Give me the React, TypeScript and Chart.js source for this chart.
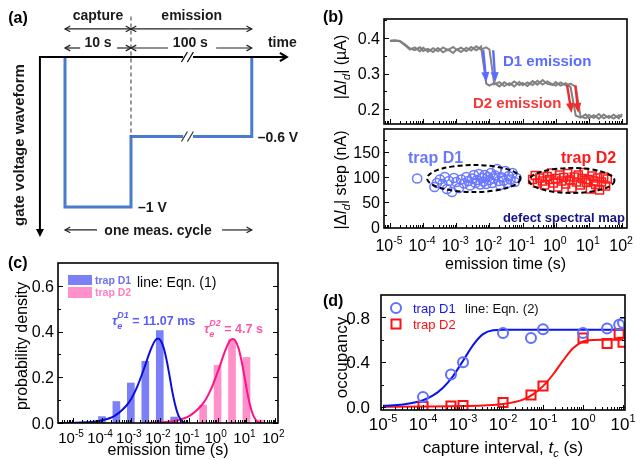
import React, { useEffect, useRef } from "react";
import { Chart, registerables } from "chart.js";
Chart.register(...registerables);

const FONT = '"Liberation Sans", Arial, Helvetica, sans-serif';

// ---------------- (a) gate waveform (schematic units: s, V) ----------------
const waveT = [0, 0, 10, 10, 28.3, 28.3];
const waveV = [0, -1, -1, -0.53, -0.53, 0];

// ---------------- (b) drain current traces ----------------
const traceTimes = [
  1e-5, 1.4e-5, 2e-5, 2.8e-5, 4e-5, 5.6e-5, 8e-5,
  1e-4, 1.4e-4, 2e-4, 2.8e-4, 4e-4, 5.6e-4, 8e-4,
  1e-3, 1.4e-3, 2e-3, 2.8e-3, 4e-3, 5.6e-3, 8e-3,
  1e-2, 1.4e-2, 2e-2, 2.8e-2, 4e-2, 5.6e-2, 8e-2,
  0.1, 0.14, 0.2, 0.28, 0.4, 0.56, 0.8,
  1, 1.4, 2, 2.8, 4, 5.6, 8,
  10, 14, 20, 28, 40, 56, 80,
  100,
];
const trace1 = [
  0.393, 0.394, 0.392, 0.383, 0.371, 0.366, 0.374,
  0.364, 0.37, 0.361, 0.372, 0.36, 0.368, 0.358,
  0.367, 0.373, 0.363, 0.375, 0.366, 0.376, 0.272,
  0.266, 0.274, 0.264, 0.276, 0.267, 0.278, 0.268,
  0.274, 0.265, 0.279, 0.269, 0.282, 0.271, 0.268,
  0.276, 0.266, 0.273, 0.262, 0.182, 0.176, 0.185,
  0.174, 0.183, 0.173, 0.185, 0.175, 0.184, 0.174,
  0.186,
];
const trace2 = [
  0.392, 0.393, 0.391, 0.38, 0.368, 0.374, 0.363,
  0.373, 0.362, 0.372, 0.363, 0.374, 0.366, 0.375,
  0.368, 0.361, 0.373, 0.365, 0.377, 0.368, 0.374,
  0.368, 0.27, 0.276, 0.265, 0.273, 0.264, 0.277,
  0.267, 0.275, 0.268, 0.28, 0.269, 0.278, 0.27,
  0.266, 0.275, 0.267, 0.272, 0.263, 0.179, 0.174,
  0.184, 0.175, 0.186, 0.174, 0.181, 0.173, 0.183,
  0.178,
];
// emission arrows [t0, I0, t1, I1]
const d1Arrows = [
  [6.5e-3, 0.366, 8e-3, 0.276],
  [1.3e-2, 0.366, 1.5e-2, 0.276],
];
const d2Arrows = [
  [2.2, 0.267, 3.0, 0.189],
  [3.9, 0.267, 4.8, 0.189],
];

// defect spectral map
const d1StepTimes = [6.6e-5, 2.2e-4, 2.6e-4, 3.2e-4, 3.8e-4, 4.5e-4, 5.2e-4, 6e-4, 7.4e-4, 8.5e-4, 1e-3, 1.2e-3, 1.4e-3, 1.7e-3, 2e-3, 2.3e-3, 2.6e-3, 3e-3, 3.4e-3, 3.8e-3, 4.2e-3, 4.8e-3, 5.3e-3, 6e-3, 6.6e-3, 7.2e-3, 8e-3, 9e-3, 1e-2, 1.1e-2, 1.2e-2, 1.35e-2, 1.5e-2, 1.7e-2, 1.9e-2, 2.1e-2, 2.4e-2, 2.7e-2, 3e-2, 3.4e-2, 3.8e-2, 4.3e-2, 5e-2, 5.8e-2, 6.6e-2];
const d1StepVals = [97, 80, 88, 95, 86, 100, 76, 92, 70, 98, 90, 78, 95, 87, 100, 92, 83, 97, 104, 88, 94, 106, 85, 98, 91, 104, 86, 100, 94, 108, 88, 97, 103, 116, 92, 84, 99, 93, 112, 88, 102, 95, 108, 90, 98];
const d2StepTimes = [0.2, 0.24, 0.28, 0.33, 0.4, 0.46, 0.55, 0.65, 0.75, 0.85, 1, 1.15, 1.3, 1.5, 1.75, 2, 2.3, 2.7, 3.1, 3.6, 4.2, 4.8, 5.5, 6.3, 7.2, 8.3, 9.5, 11, 12.5, 14, 16, 18.5, 21, 24, 28, 32, 36];
const d2StepVals = [95, 103, 88, 98, 92, 84, 101, 95, 108, 88, 97, 80, 104, 92, 99, 86, 107, 94, 78, 100, 90, 104, 84, 97, 109, 89, 95, 76, 102, 92, 85, 98, 74, 90, 100, 82, 96];
// cluster ellipses [tLeft, tRight, centre nA, half-height nA]
const d1Ellipse = [1.32e-4, 8.5e-2, 97, 27];
const d2Ellipse = [0.158, 59, 93, 25];

// ---------------- (c) emission time histogram ----------------
const histD1Times = [1e-4, 3.16e-4, 1e-3, 3.16e-3, 1e-2, 3.16e-2];
const histD1 = [0.028, 0.094, 0.175, 0.27, 0.404, 0.026];
const histD2Times = [0.316, 1, 3.16, 10, 31.6];
const histD2 = [0.079, 0.252, 0.365, 0.287, 0.013];
const fitD1Times = [3.16e-6, 8.71e-6, 2.75e-5, 8.71e-5, 2.75e-4, 8.71e-4, 1.55e-3, 2.75e-3, 4.9e-3, 6.92e-3, 8.71e-3, 1.1e-2, 1.38e-2, 1.74e-2, 2.19e-2, 2.75e-2, 3.47e-2, 4.37e-2, 5.5e-2, 6.92e-2, 8.71e-2];
const fitD1 = [0.0003, 0.001, 0.003, 0.01, 0.031, 0.091, 0.15, 0.232, 0.322, 0.361, 0.37, 0.359, 0.327, 0.273, 0.205, 0.134, 0.075, 0.034, 0.012, 0.003, 0.0005];
const fitD2Times = [3.39e-3, 1.07e-2, 3.39e-2, 0.107, 0.339, 0.603, 1.07, 1.91, 2.69, 3.39, 4.27, 5.37, 6.76, 8.51, 10.7, 13.5, 17, 21.4, 26.9, 33.9];
const fitD2 = [0.001, 0.003, 0.01, 0.031, 0.091, 0.15, 0.232, 0.322, 0.361, 0.367, 0.357, 0.325, 0.271, 0.203, 0.133, 0.074, 0.034, 0.012, 0.003, 0.0005];

// ---------------- (d) occupancy ----------------
const occTimes = [1e-4, 5e-4, 1e-3, 1e-2, 5e-2, 0.1, 1, 4, 8, 10];
const occD1 = [0.09, 0.29, 0.4, 0.66, 0.615, 0.695, 0.66, 0.7, 0.735, 0.75];
const occD2 = [0.005, 0.008, 0.012, 0.04, 0.107, 0.187, 0.616, 0.566, 0.655, 0.578];
const occFitD1Times = [1e-5, 3.16e-5, 1e-4, 1.78e-4, 3.16e-4, 5.62e-4, 1e-3, 1.78e-3, 3.16e-3, 5.62e-3, 1e-2, 10];
const occFitD1 = [0.01, 0.022, 0.06, 0.103, 0.172, 0.276, 0.412, 0.553, 0.651, 0.686, 0.69, 0.69];
const occFitD2Times = [1e-5, 1e-4, 1e-3, 3.16e-3, 1e-2, 3.16e-2, 5.62e-2, 0.1, 0.178, 0.316, 0.562, 1, 1.78, 3.16, 10];
const occFitD2 = [0.002, 0.004, 0.008, 0.014, 0.026, 0.066, 0.113, 0.186, 0.29, 0.414, 0.525, 0.585, 0.599, 0.6, 0.6];

// ---------------- ticks ----------------
const bXExps = [-5, -4, -3, -2, -1, 0, 1, 2];
const cXExps = [-5, -4, -3, -2, -1, 0, 1, 2];
const dXExps = [-5, -4, -3, -2, -1, 0, 1];
const bTopYTicks = [0.2, 0.3, 0.4];
const bTopYMinor = [0.25, 0.35, 0.45];
const bBotYTicks = [0, 50, 100, 150];
const bBotYMinor = [25, 75, 125, 175];
const cYTicks = [0, 0.2, 0.4, 0.6];
const cYMinor = [0.1, 0.3, 0.5];
const dYTicks = [0, 0.4, 0.8];
const dYMinor = [0.2, 0.6];

// ---------------- helpers ----------------
type Seg = { t: string; s: number; b?: boolean; i?: boolean; dy?: number; c?: string; keep?: boolean };
const fnt = (s: number, b = false, i = false) => `${i ? "italic " : ""}${b ? "bold " : ""}${s}px ${FONT}`;

function segWidth(ctx: CanvasRenderingContext2D, segs: Seg[]) {
  let w = 0, kept = 0;
  for (const g of segs) {
    ctx.font = fnt(g.s, g.b, g.i);
    const m = ctx.measureText(g.t).width;
    if (g.keep) kept = m;
    else { w += Math.max(m, kept); kept = 0; }
  }
  return w;
}
function drawSegs(ctx: CanvasRenderingContext2D, segs: Seg[], x: number, y: number, align: string, color: string) {
  const w = segWidth(ctx, segs);
  let cx = align === "left" ? x : align === "center" ? x - w / 2 : x - w;
  ctx.textAlign = "left";
  ctx.textBaseline = "alphabetic";
  let kept = 0;
  for (const g of segs) {
    ctx.font = fnt(g.s, g.b, g.i);
    ctx.fillStyle = g.c || color;
    ctx.fillText(g.t, cx, y + (g.dy || 0));
    const m = ctx.measureText(g.t).width;
    if (g.keep) kept = m;
    else { cx += Math.max(m, kept); kept = 0; }
  }
}
function txt(ctx: CanvasRenderingContext2D, segs: Seg[], x: number, cy: number, align: string, color: string) {
  drawSegs(ctx, segs, x, cy + segs[0].s * 0.36, align, color);
}
function vtxt(ctx: CanvasRenderingContext2D, segs: Seg[], cx: number, cy: number, color: string) {
  ctx.save();
  ctx.translate(cx, cy);
  ctx.rotate(-Math.PI / 2);
  drawSegs(ctx, segs, 0, segs[0].s * 0.36, "center", color);
  ctx.restore();
}
function ln(ctx: CanvasRenderingContext2D, x0: number, y0: number, x1: number, y1: number) {
  ctx.beginPath(); ctx.moveTo(x0, y0); ctx.lineTo(x1, y1); ctx.stroke();
}
function chevron(ctx: CanvasRenderingContext2D, x: number, y: number, ang: number, len: number, spread: number) {
  ctx.beginPath();
  ctx.moveTo(x - len * Math.cos(ang - spread), y - len * Math.sin(ang - spread));
  ctx.lineTo(x, y);
  ctx.lineTo(x - len * Math.cos(ang + spread), y - len * Math.sin(ang + spread));
  ctx.stroke();
}
function filledHead(ctx: CanvasRenderingContext2D, x: number, y: number, ang: number, len: number, half: number) {
  const bx = x - len * Math.cos(ang), by = y - len * Math.sin(ang);
  ctx.beginPath();
  ctx.moveTo(x, y);
  ctx.lineTo(bx + half * Math.sin(ang), by - half * Math.cos(ang));
  ctx.lineTo(bx - half * Math.sin(ang), by + half * Math.cos(ang));
  ctx.closePath();
  ctx.fill();
}
function frame(chart: any, lw = 1.6) {
  const { ctx, chartArea: a } = chart;
  ctx.save(); ctx.strokeStyle = "#000"; ctx.lineWidth = lw;
  ctx.strokeRect(a.left, a.top, a.right - a.left, a.bottom - a.top);
  ctx.restore();
}
function logMinor(exps: number[], min: number, max: number) {
  const out: number[] = [];
  for (let e = exps[0] - 1; e <= exps[exps.length - 1]; e++)
    for (let m = 2; m <= 9; m++) { const v = m * Math.pow(10, e); if (v > min && v < max) out.push(v); }
  return out;
}
function ticks(chart: any, o: any) {
  const { ctx, chartArea: a } = chart;
  const X = chart.scales.x, Y = chart.scales.y;
  ctx.save(); ctx.strokeStyle = "#000"; ctx.lineWidth = 1;
  const dx = (vals: number[], len: number) => vals.forEach((v) => {
    const p = Math.round(X.getPixelForValue(v)) + 0.5;
    ln(ctx, p, a.bottom, p, a.bottom - len);
    if (o.xTop) ln(ctx, p, a.top, p, a.top + len);
  });
  const dy = (vals: number[], len: number) => vals.forEach((v) => {
    const p = Math.round(Y.getPixelForValue(v)) + 0.5;
    ln(ctx, a.left, p, a.left + len, p);
    if (o.yRight) ln(ctx, a.right, p, a.right - len, p);
  });
  dx(o.xMaj || [], 5); dx(o.xMin || [], 3); dy(o.yMaj || [], 5); dy(o.yMin || [], 3);
  ctx.restore();
}
function logLabels(chart: any, exps: number[], cy: number, base: number, sup: number, shift = 0) {
  const { ctx } = chart;
  exps.forEach((e) => {
    const p = chart.scales.x.getPixelForValue(Math.pow(10, e));
    drawSegs(ctx, [{ t: "10", s: base }, { t: String(e), s: sup, dy: -base * 0.45 }], p + shift, cy + base * 0.36, "center", "#000");
  });
}
function linLabels(chart: any, vals: number[], fmt: (v: number) => string, size: number, gap: number) {
  const { ctx, chartArea: a } = chart;
  vals.forEach((v) => {
    const p = chart.scales.y.getPixelForValue(v);
    txt(ctx, [{ t: fmt(v), s: size }], a.left - gap, p, "right", "#000");
  });
}
function baseOptions(pad: any, xs: any, ys: any) {
  return {
    responsive: false,
    animation: false,
    events: [],
    layout: { padding: pad },
    plugins: { legend: { display: false }, tooltip: { enabled: false } },
    scales: { x: { ...xs, display: false }, y: { ...ys, display: false } },
  };
}
const pts = (xs: number[], ys: number[]) => xs.map((x, i) => ({ x, y: ys[i] }));

// ---------------- panel (a) ----------------
function makeA() {
  const plugin = {
    id: "panelA",
    afterDatasetsDraw(chart: any) {
      const { ctx } = chart;
      const X = (v: number) => chart.scales.x.getPixelForValue(v);
      const Y = (v: number) => chart.scales.y.getPixelForValue(v);
      ctx.save();
      ctx.strokeStyle = "#333"; ctx.lineWidth = 1; ctx.setLineDash([4, 3]);
      ln(ctx, X(10), Y(0.27), X(10), Y(-0.53));
      ctx.setLineDash([]);
      ctx.strokeStyle = "#000"; ctx.lineWidth = 2;
      ln(ctx, X(-3.8), Y(0), X(33.6), Y(0));
      ctx.lineWidth = 2.2; chevron(ctx, X(33.6), Y(0), 0, 8, 0.55);
      ctx.lineWidth = 2;
      ln(ctx, X(-3.8), Y(0) - 1, X(-3.8), Y(-1.18));
      ctx.fillStyle = "#000"; filledHead(ctx, X(-3.8), Y(-1.2), Math.PI / 2, 8, 4);
      const brk = (yy: number, col: string) => {
        ctx.fillStyle = "#fff";
        ctx.fillRect(X(17.9), yy - 4, X(19.4) - X(17.9), 8);
        ctx.strokeStyle = col; ctx.lineWidth = 1.2;
        ln(ctx, X(18.1) - 3, yy + 5, X(18.1) + 3, yy - 5);
        ln(ctx, X(19.0) - 3, yy + 5, X(19.0) + 3, yy - 5);
      };
      brk(Y(0), "#000");
      brk(Y(-0.53), "#333");
      ctx.strokeStyle = "#222"; ctx.lineWidth = 1.2;
      const dim = (x0: number, x1: number, yy: number) => {
        ln(ctx, x0, yy, x1, yy);
        chevron(ctx, x1, yy, x1 > x0 ? 0 : Math.PI, 6, 0.5);
      };
      dim(X(5), X(0), Y(0.187)); dim(X(5), X(10), Y(0.187));
      dim(X(19), X(10), Y(0.187)); dim(X(19), X(28.3), Y(0.187));
      dim(X(2.3), X(0), Y(0.06)); dim(X(7.9), X(10), Y(0.06));
      dim(X(15.6), X(10), Y(0.06)); dim(X(22.9), X(28.3), Y(0.06));
      dim(X(4.85), X(0), Y(-1.153)); dim(X(23.8), X(28.3), Y(-1.153));
      const k = "#1a1a1a";
      txt(ctx, [{ t: "(a)", s: 16, b: true }], X(-8.6), Y(0.267), "left", "#000");
      txt(ctx, [{ t: "capture", s: 14, b: true }], X(5), Y(0.28), "center", k);
      txt(ctx, [{ t: "emission", s: 14, b: true }], X(19.2), Y(0.28), "center", k);
      txt(ctx, [{ t: "10 s", s: 14, b: true }], X(5), Y(0.1), "center", k);
      txt(ctx, [{ t: "100 s", s: 14, b: true }], X(19), Y(0.1), "center", k);
      txt(ctx, [{ t: "time", s: 14, b: true }], X(30.75), Y(0.1), "left", k);
      txt(ctx, [{ t: "–1 V", s: 14, b: true }], X(11.06), Y(-1), "left", k);
      txt(ctx, [{ t: "–0.6 V", s: 14, b: true }], X(29.2), Y(-0.53), "left", k);
      txt(ctx, [{ t: "one meas. cycle", s: 14, b: true }], X(14.1), Y(-1.153), "center", k);
      vtxt(ctx, [{ t: "gate voltage waveform", s: 15, b: true }], X(-7.1), Y(-0.587), k);
      ctx.restore();
    },
  };
  return {
    type: "scatter",
    data: {
      datasets: [{
        data: pts(waveT, waveV), showLine: true, borderColor: "#4a7bcd", borderWidth: 3,
        pointRadius: 0, borderJoinStyle: "miter", tension: 0,
      }],
    },
    options: baseOptions({ left: 0, right: 0, top: 0, bottom: 0 },
      { type: "linear", min: -9.85, max: 38.64 }, { type: "linear", min: -1.22, max: 0.38 }),
    plugins: [plugin],
  };
}

// ---------------- panel (b) top ----------------
const bXMin = 6.6e-6, bXMax = 141;
function makeBTop() {
  const plugin = {
    id: "panelBTop",
    afterDatasetsDraw(chart: any) {
      const { ctx } = chart;
      const X = (v: number) => chart.scales.x.getPixelForValue(v);
      const Y = (v: number) => chart.scales.y.getPixelForValue(v);
      frame(chart);
      ticks(chart, { xMaj: bXExps.map((e) => Math.pow(10, e)), xMin: logMinor(bXExps, bXMin, bXMax), yMaj: bTopYTicks, yMin: bTopYMinor });
      linLabels(chart, bTopYTicks, (v) => v.toFixed(1), 16, 4);
      const arrow = (a: number[], col: string) => {
        const x0 = X(a[0]), y0 = Y(a[1]), x1 = X(a[2]), y1 = Y(a[3]);
        const ang = Math.atan2(y1 - y0, x1 - x0);
        ctx.strokeStyle = col; ctx.fillStyle = col; ctx.lineWidth = 2.4;
        ln(ctx, x0, y0, x1 - 8 * Math.cos(ang), y1 - 8 * Math.sin(ang));
        filledHead(ctx, x1, y1, ang, 10, 4);
      };
      d1Arrows.forEach((a) => arrow(a, "#5b6cff"));
      d2Arrows.forEach((a) => arrow(a, "#f22a2a"));
      txt(ctx, [{ t: "D1 emission", s: 15, b: true }], 183, 61, "left", "#5b6cff");
      txt(ctx, [{ t: "D2 emission", s: 15, b: true }], 153, 103, "left", "#f23a3a");
      txt(ctx, [{ t: "(b)", s: 16, b: true }], 3, 16, "left", "#000");
      vtxt(ctx, [{ t: "|Δ", s: 16 }, { t: "I", s: 16, i: true }, { t: "d", s: 11, i: true, dy: 4 }, { t: "| (µA)", s: 16 }], 20, 67, "#000");
    },
  };
  return {
    type: "scatter",
    data: {
      datasets: [
        { data: pts(traceTimes, trace1), showLine: true, borderColor: "#808080", borderWidth: 2, pointRadius: 0 },
        { data: pts(traceTimes, trace2), showLine: true, borderColor: "#858585", borderWidth: 2, pointRadius: 0 },
      ],
    },
    options: baseOptions({ left: 64, right: 9, top: 19, bottom: 2 },
      { type: "logarithmic", min: bXMin, max: bXMax }, { type: "linear", min: 0.158, max: 0.454 }),
    plugins: [plugin],
  };
}

// ---------------- panel (b) bottom ----------------
function makeBBot() {
  const plugin = {
    id: "panelBBot",
    afterDatasetsDraw(chart: any) {
      const { ctx, chartArea: a } = chart;
      const X = (v: number) => chart.scales.x.getPixelForValue(v);
      const Y = (v: number) => chart.scales.y.getPixelForValue(v);
      const ell = (e: number[]) => {
        const x0 = X(e[0]), x1 = X(e[1]);
        const cy = Y(e[2]), ry = Math.abs(Y(e[2] + e[3]) - cy);
        ctx.save(); ctx.strokeStyle = "#000"; ctx.lineWidth = 2; ctx.setLineDash([5, 3]);
        ctx.beginPath(); ctx.ellipse((x0 + x1) / 2, cy, (x1 - x0) / 2, ry, 0, 0, Math.PI * 2); ctx.stroke();
        ctx.restore();
      };
      ell(d1Ellipse); ell(d2Ellipse);
      frame(chart);
      ticks(chart, { xMaj: bXExps.map((e) => Math.pow(10, e)), xMin: logMinor(bXExps, bXMin, bXMax), yMaj: bBotYTicks, yMin: bBotYMinor });
      linLabels(chart, bBotYTicks, (v) => String(v), 16, 4);
      logLabels(chart, bXExps, a.bottom + 17, 16, 10.5, -1);
      txt(ctx, [{ t: "emission time (s)", s: 16 }], (a.left + a.right) / 2, a.bottom + 35, "center", "#000");
      txt(ctx, [{ t: "trap D1", s: 16, b: true }], 88, Y(140), "left", "#6a78ff");
      txt(ctx, [{ t: "trap D2", s: 16, b: true }], 241, Y(140), "left", "#ff1a1a");
      txt(ctx, [{ t: "defect spectral map", s: 13, b: true }], a.right - 2, Y(20), "right", "#141487");
      vtxt(ctx, [{ t: "|Δ", s: 16 }, { t: "I", s: 16, i: true }, { t: "d", s: 11, i: true, dy: 4 }, { t: "| step (nA)", s: 16 }], 20, 64, "#000");
    },
  };
  return {
    type: "scatter",
    data: {
      datasets: [
        { data: pts(d1StepTimes, d1StepVals), pointStyle: "circle", pointRadius: 4.6, borderColor: "#6a78ff", borderWidth: 1.5, backgroundColor: "rgba(0,0,0,0)" },
        { data: pts(d2StepTimes, d2StepVals), pointStyle: "rect", pointRadius: 5.6, borderColor: "#ff1a1a", borderWidth: 1.5, backgroundColor: "rgba(0,0,0,0)" },
      ],
    },
    options: baseOptions({ left: 64, right: 9, top: 13, bottom: 48 },
      { type: "logarithmic", min: bXMin, max: bXMax }, { type: "linear", min: -2, max: 196 }),
    plugins: [plugin],
  };
}

// ---------------- panel (c) ----------------
const cXMin = 3.02e-6, cXMax = 123;
function makeC() {
  const plugin = {
    id: "panelC",
    afterDatasetsDraw(chart: any) {
      const { ctx, chartArea: a } = chart;
      frame(chart);
      ticks(chart, { xMaj: cXExps.map((e) => Math.pow(10, e)), xMin: logMinor(cXExps, cXMin, cXMax), yMaj: cYTicks, yMin: cYMinor, yRight: true });
      linLabels(chart, cYTicks, (v) => v.toFixed(1), 16, 4);
      logLabels(chart, cXExps, a.bottom + 15, 15, 10, -2);
      txt(ctx, [{ t: "emission time (s)", s: 16 }], (a.left + a.right) / 2, a.bottom + 26, "center", "#000");
      vtxt(ctx, [{ t: "probability density", s: 16 }], 21, (a.top + a.bottom) / 2 + 3, "#000");
      txt(ctx, [{ t: "(c)", s: 16, b: true }], 8, 22, "left", "#000");
      ctx.fillStyle = "#7b80f6"; ctx.fillRect(68, 35, 24, 10);
      ctx.fillStyle = "#ff90c9"; ctx.fillRect(68, 47, 24, 11);
      txt(ctx, [{ t: "trap D1", s: 10.5, b: true }], 95, 40, "left", "#6b70ee");
      txt(ctx, [{ t: "trap D2", s: 10.5, b: true }], 95, 52, "left", "#ff7fc0");
      txt(ctx, [{ t: "line: Eqn. (1)", s: 14 }], 137, 42, "left", "#000");
      const tau = (sup: string, rest: string, x: number, y: number, col: string) => {
        txt(ctx, [
          { t: "τ", s: 13, b: true, i: true },
          { t: "e", s: 9, b: true, i: true, dy: 4, keep: true },
          { t: sup, s: 9, b: true, i: true, dy: -7 },
          { t: rest, s: 12.5, b: true },
        ], x, y, "left", col);
      };
      tau("D1", " = 11.07 ms", 112, 80, "#5a5cf5");
      tau("D2", " = 4.7 s", 204, 88, "#ff55a6");
    },
  };
  return {
    type: "bar",
    data: {
      datasets: [
        { type: "line", data: pts(fitD1Times, fitD1), borderColor: "#0d0de0", borderWidth: 2, pointRadius: 0, cubicInterpolationMode: "monotone" },
        { type: "line", data: pts(fitD2Times, fitD2), borderColor: "#ff1285", borderWidth: 2, pointRadius: 0, cubicInterpolationMode: "monotone" },
        { type: "bar", data: pts(histD1Times, histD1), backgroundColor: "#7b80f6", barThickness: 7, grouped: false },
        { type: "bar", data: pts(histD2Times, histD2), backgroundColor: "#ff90c9", barThickness: 7, grouped: false },
      ],
    },
    options: baseOptions({ left: 58, right: 42, top: 23, bottom: 37 },
      { type: "logarithmic", min: cXMin, max: cXMax, offset: false }, { type: "linear", min: 0, max: 0.7 }),
    plugins: [plugin],
  };
}

// ---------------- panel (d) ----------------
const dXMin = 8.9e-6, dXMax = 11.2;
function makeD() {
  const plugin = {
    id: "panelD",
    afterDatasetsDraw(chart: any) {
      const { ctx, chartArea: a } = chart;
      frame(chart);
      ticks(chart, { xMaj: dXExps.map((e) => Math.pow(10, e)), xMin: logMinor(dXExps, dXMin, dXMax), yMaj: dYTicks, yMin: dYMinor, yRight: true });
      linLabels(chart, dYTicks, (v) => v.toFixed(1), 17, 11);
      logLabels(chart, dXExps, a.bottom + 14, 17, 11, 0);
      txt(ctx, [{ t: "capture interval, ", s: 17 }, { t: "t", s: 17, i: true }, { t: "c", s: 11, i: true, dy: 4 }, { t: " (s)", s: 17 }], (a.left + a.right) / 2, a.bottom + 37, "center", "#000");
      vtxt(ctx, [{ t: "occupancy", s: 17 }], 21, (a.top + a.bottom) / 2 + 5, "#000");
      txt(ctx, [{ t: "(d)", s: 16, b: true }], 3, 24, "left", "#000");
      ctx.save();
      ctx.lineWidth = 2; ctx.strokeStyle = "#5f6fff";
      ctx.beginPath(); ctx.arc(76, 32, 5, 0, Math.PI * 2); ctx.stroke();
      ctx.strokeStyle = "#ff1010"; ctx.strokeRect(71.5, 43.5, 9, 9);
      ctx.restore();
      txt(ctx, [{ t: "trap D1", s: 13 }], 93, 32, "left", "#1414ee");
      txt(ctx, [{ t: "trap D2", s: 13 }], 93, 48, "left", "#ff1010");
      txt(ctx, [{ t: "line: Eqn. (2)", s: 13 }], 145, 32, "left", "#111");
    },
  };
  return {
    type: "scatter",
    data: {
      datasets: [
        { data: pts(occTimes, occD1), pointStyle: "circle", pointRadius: 5, borderColor: "#5f6fff", borderWidth: 2, backgroundColor: "rgba(0,0,0,0)" },
        { data: pts(occTimes, occD2), pointStyle: "rect", pointRadius: 6.4, borderColor: "#ff1010", borderWidth: 2, backgroundColor: "rgba(0,0,0,0)" },
        { data: pts(occFitD1Times, occFitD1), showLine: true, borderColor: "#0a14f0", borderWidth: 2, pointRadius: 0, cubicInterpolationMode: "monotone" },
        { data: pts(occFitD2Times, occFitD2), showLine: true, borderColor: "#ff1010", borderWidth: 2, pointRadius: 0, cubicInterpolationMode: "monotone" },
      ],
    },
    options: baseOptions({ left: 61, right: 11, top: 19, bottom: 50 },
      { type: "logarithmic", min: dXMin, max: dXMax }, { type: "linear", min: -0.027, max: 1.0 }),
    plugins: [plugin],
  };
}

function ChartCanvas(props: { left: number; top: number; w: number; h: number; make: () => any }) {
  const ref = useRef<HTMLCanvasElement | null>(null);
  useEffect(() => {
    if (!ref.current) return;
    const chart = new Chart(ref.current, props.make());
    return () => chart.destroy();
  }, []);
  return (
    <canvas ref={ref} width={props.w} height={props.h}
      style={{ position: "absolute", left: props.left, top: props.top, width: props.w, height: props.h }} />
  );
}

export default function App() {
  return (
    <div style={{ position: "absolute", left: 0, top: 0, width: 636, height: 460, background: "#fff", overflow: "hidden" }}>
      <ChartCanvas left={0} top={0} w={320} h={240} make={makeA} />
      <ChartCanvas left={320} top={0} w={316} h={126} make={makeBTop} />
      <ChartCanvas left={320} top={116} w={316} h={160} make={makeBBot} />
      <ChartCanvas left={0} top={240} w={320} h={220} make={makeC} />
      <ChartCanvas left={320} top={276} w={316} h={184} make={makeD} />
    </div>
  );
}
